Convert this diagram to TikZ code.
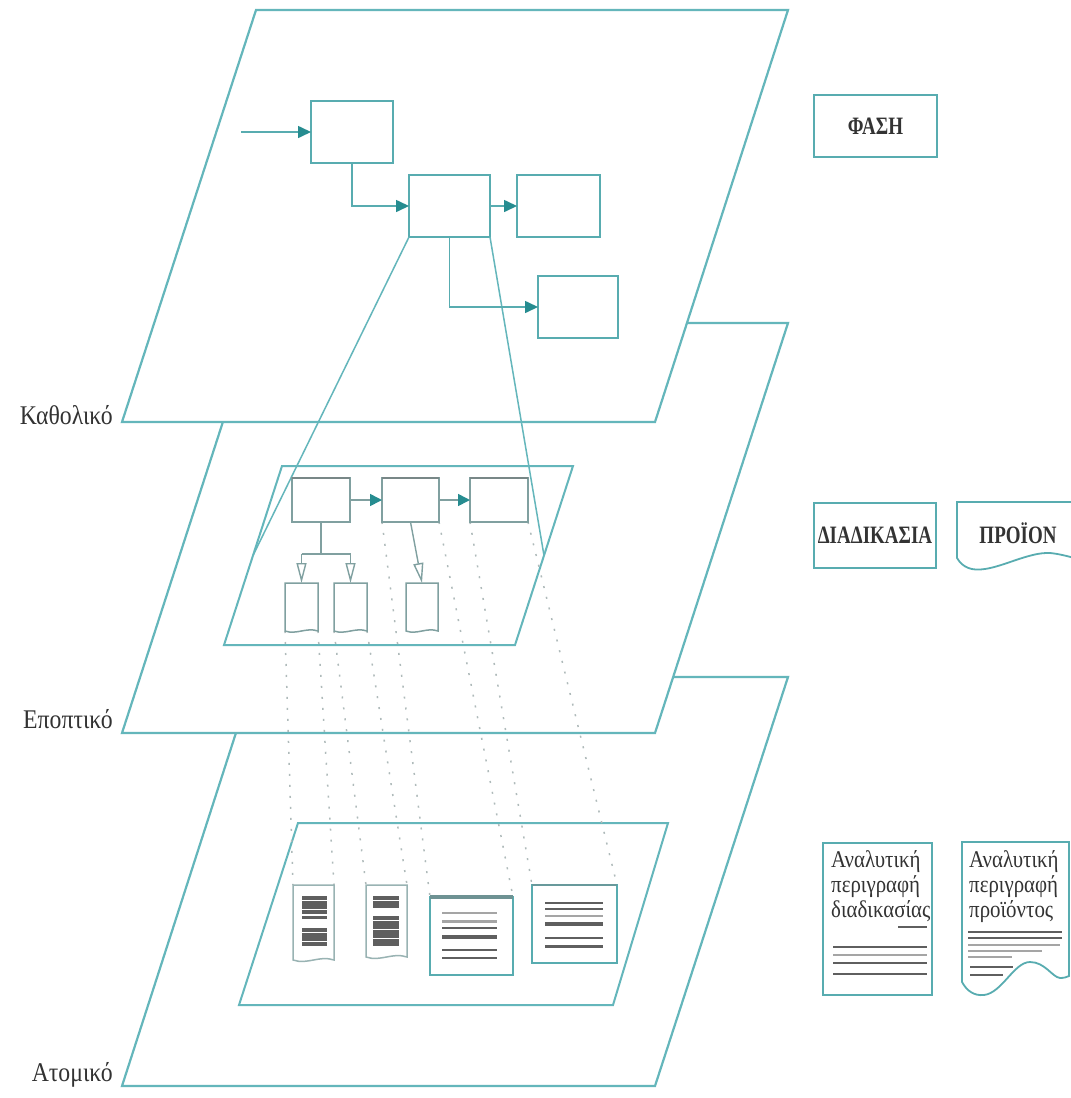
\documentclass[tikz,border=0pt]{standalone}
\usepackage{fontspec}
\setmainfont{Liberation Serif}
\newfontfamily\levelfont[FakeStretch=0.88]{Liberation Serif}
\newfontfamily\keyfont[FakeStretch=0.76]{Liberation Serif}
\newfontfamily\notefont[FakeStretch=0.87]{Liberation Serif}
\usetikzlibrary{arrows.meta,calc}

\definecolor{planeteal}{RGB}{100,182,187}
\definecolor{boxteal}{RGB}{88,172,176}
\definecolor{tipteal}{RGB}{38,140,144}
\definecolor{subgray}{RGB}{128,160,160}
\definecolor{subedge}{RGB}{120,135,135}
\definecolor{dotgray}{RGB}{175,186,186}
\definecolor{bardark}{RGB}{95,95,95}
\definecolor{barlight}{RGB}{165,165,165}
\definecolor{labelgray}{RGB}{50,50,50}

% document symbol: a rectangle node whose bottom edge is a wave
% #1 style, #2 node name, #3 wave depth
\newcommand\wavydoc[3]{%
  \draw[#1] (#2.south east) -- (#2.north east) -- (#2.north west) -- (#2.south west)
    .. controls ($(#2.south west)!0.35!(#2.south east)+(0,#3)$)
            and ($(#2.south west)!0.65!(#2.south east)-(0,#3)$) .. (#2.south east) -- cycle;}

\begin{document}
\begin{tikzpicture}[x=1pt,y=-1pt,
  plane/.style={draw=planeteal,line width=2.2pt,fill=white,line join=miter},
  subplane/.style={draw=planeteal,line width=2pt,line join=miter},
  flowbox/.style 2 args={draw=boxteal,line width=2.2pt,fill=white,inner sep=0pt,
    outer sep=0pt,minimum width=#1,minimum height=#2},
  docnode/.style 2 args={inner sep=0pt,outer sep=0pt,minimum width=#1,minimum height=#2},
  subdoc/.style={draw=subgray,line width=1.5pt,fill=white},
  lowdoc/.style={draw=subgray!80,line width=1.5pt,fill=white},
  keydoc/.style={draw=boxteal,line width=1.8pt,fill=white},
  flow/.style={draw=boxteal,line width=1.6pt,-{Triangle[length=13pt,width=12pt,color=tipteal]}},
  subflow/.style={draw=subgray,line width=1.6pt,-{Triangle[length=12pt,width=12pt,color=tipteal]}},
  subline/.style={draw=subgray,line width=1.6pt},
  openflow/.style={draw=subgray,line width=1.4pt,-{Triangle[open,length=20pt,width=10pt]}},
  proj/.style={draw=planeteal,line width=1.5pt},
  dots/.style={draw=dotgray,line width=1.5pt,dash pattern=on 2pt off 9pt},
  level/.style={font=\levelfont\fontsize{27}{30}\selectfont,text=labelgray,inner sep=0pt},
  keytext/.style={font=\keyfont\bfseries\fontsize{25}{28}\selectfont,text=black!80},
  notetext/.style={font=\notefont\fontsize{24}{25}\selectfont,text=black!80,
    align=left,inner sep=0pt},
  bar/.style={draw=bardark,line width=4pt},
  rule/.style={draw=bardark,line width=2.2pt},
  faint/.style={draw=barlight,line width=2.6pt}]

\useasboundingbox (0,0) rectangle (1071,1098);

% ---------- the three levels, back to front ----------
\draw[plane] (254,677) -- (788,677) -- (655,1086) -- (122,1086) -- cycle;
\draw[subplane] (298,823) -- (668,823) -- (613,1005) -- (239,1005) -- cycle;

\draw[plane] (255,323) -- (788,323) -- (655,733) -- (122,733) -- cycle;
\coordinate (itl) at (282,466);
\coordinate (itr) at (573,466);
\coordinate (ibr) at (515,645);
\coordinate (ibl) at (224,645);
\draw[subplane] (itl) -- (itr) -- (ibr) -- (ibl) -- cycle;
\coordinate (ipl) at ($(itl)!0.5!(ibl)$);
\coordinate (ipr) at ($(itr)!0.5!(ibr)$);

\draw[plane] (256,10) -- (788,10) -- (655,422) -- (122,422) -- cycle;

% level names
\node[level,anchor=base east] (lvl1) at (113,424) {Καθολικό};
\node[level,anchor=base east] (lvl2) at (113,728) {Εποπτικό};
\node[level,anchor=base east] (lvl3) at (113,1081) {Ατομικό};

% ---------- node placement ----------
% top level: phases
\node[flowbox={82}{62}] (A) at (352,132) {};
\node[flowbox={81}{62}] (B) at (449.5,206) {};
\node[flowbox={83}{62}] (C) at (558.5,206) {};
\node[flowbox={80}{62}] (D) at (578,307) {};
\coordinate (in) at (241,132);

% middle level: procedures and products
\node[docnode={58}{44}] (m1) at (321,500) {};
\node[docnode={57}{44}] (m2) at (410.5,500) {};
\node[docnode={58}{44}] (m3) at (499,500) {};
\node[docnode={33}{48}] (d1) at (301.5,607) {};
\node[docnode={33}{48}] (d2) at (350.5,607) {};
\node[docnode={32}{48}] (d3) at (422,607) {};
\coordinate (split) at (321,554);

% lowest level: detailed descriptions
\node[docnode={41}{75}] (bd1) at (313.5,922.5) {};
\node[docnode={41}{72}] (bd2) at (386.5,921) {};
\node[docnode={83}{78}] (bx3) at (471.5,936) {};
\node[docnode={85}{78}] (bx4) at (574.5,924) {};

% ---------- guide lines between levels ----------
\draw[dots] (d1.south west) -- (bd1.north west);
\draw[dots] (d1.south east) -- (bd1.north east);
\draw[dots] (d2.south west) -- (bd2.north west);
\draw[dots] (d2.south east) -- (bd2.north east);
\draw[dots] (m2.south west) -- (bx3.north west);
\draw[dots] (m2.south east) -- (bx3.north east);
\draw[dots] (m3.south west) -- (bx4.north west);
\draw[dots] (m3.south east) -- (bx4.north east);

\draw[proj] (B.south west) -- (ipl);
\draw[proj] (B.south east) -- (ipr);

% ---------- shapes ----------
\foreach \n in {m1,m2,m3}{
  \draw[draw=subgray,line width=1.6pt,fill=white] (\n.north west) rectangle (\n.south east);
  \draw[draw=subedge,line width=2.6pt] (\n.north west) -- (\n.north east);
}
\wavydoc{subdoc}{d1}{4}
\wavydoc{subdoc}{d2}{4}
\wavydoc{subdoc}{d3}{4}

\wavydoc{lowdoc}{bd1}{5}
\wavydoc{lowdoc}{bd2}{5}
\draw[draw=boxteal,line width=1.8pt,fill=white] (bx3.north west) rectangle (bx3.south east);
\draw[draw=subedge!70!boxteal,line width=3.4pt] (bx3.north west) -- (bx3.north east);
\draw[draw=boxteal,line width=1.8pt,fill=white] (bx4.north west) rectangle (bx4.south east);
\draw[draw=subedge!50!boxteal,line width=2.6pt] (bx4.north west) -- (bx4.north east);

% text blocks inside the detailed descriptions
\foreach \y in {898,902.5,907,911.5,930,934.5,939,943.5}{\draw[bar] (302,\y) -- (327,\y);}
\draw[rule] (302,917.5) -- (327,917.5);
\foreach \y in {898,902.5,906,918,922.5,927,931.5,936,940.5,944}{\draw[bar] (373,\y) -- (399,\y);}
\foreach \y in {913,921.5}{\draw[faint] (442,\y) -- (497,\y);}
\draw[rule] (442,928) -- (497,928);
\draw[bar] (442,936.5) -- (497,936.5);
\foreach \y in {950,958}{\draw[rule] (442,\y) -- (497,\y);}
\foreach \y in {903,909,938,946.5}{\draw[rule] (545,\y) -- (603,\y);}
\draw[faint] (545,916) -- (603,916);
\draw[bar] (545,923.5) -- (603,923.5);

% ---------- connectors ----------
\draw[flow] (in) -- (A.west);
\draw[flow] (A.south) |- (B.west);
\draw[flow] (B.east) -- (C.west);
\draw[flow] (B.south) |- (D.west);

\draw[subflow] (m1.east) -- (m2.west);
\draw[subflow] (m2.east) -- (m3.west);
\draw[subline] (m1.south) -- (split);
\draw[subline] (d1.north |- split) -- (d2.north |- split);
\draw[openflow] (d1.north |- split) -- (d1.north);
\draw[openflow] (d2.north |- split) -- (d2.north);
\draw[openflow] (m2.south) -- (d3.north);

% ---------- key ----------
\node[flowbox={123}{62},keytext] (phase) at (875.5,126) {ΦΑΣΗ};
\node[flowbox={122}{65},keytext,line width=1.8pt] (proc) at (875,535.5) {ΔΙΑΔΙΚΑΣΙΑ};
\node[keytext,inner sep=0pt] (prod) at (1018,533) {ΠΡΟΪΟΝ};
\draw[keydoc,fill=none] (1075,502) -- (957,502) -- (957,558)
  .. controls (963,568) and (972,571) .. (985,569)
  .. controls (1005,566) and (1030,552) .. (1050,553)
  .. controls (1060,554) and (1066,556) .. (1075,558);

\node[flowbox={109}{152},line width=1.8pt] (pdesc) at (877.5,919) {};
\node[notetext,anchor=north west] (pdesctext) at (831,850) {Αναλυτική\\περιγραφή\\διαδικασίας};
\draw[rule] (898,927) -- (927,927);
\draw[rule] (833,947) -- (927,947);
\draw[faint] (833,955) -- (927,955);
\draw[rule] (833,963) -- (927,963);
\draw[rule] (833,974) -- (927,974);

\draw[keydoc] (1069,842) -- (962,842) -- (962,982)
  .. controls (967,991) and (974,996) .. (984,995)
  .. controls (1002,993) and (1014,962) .. (1030,962)
  .. controls (1045,962) and (1052,977) .. (1060,978)
  .. controls (1064,978) and (1067,977) .. (1069,976) -- cycle;
\node[notetext,anchor=north west] (ddesctext) at (969,850) {Αναλυτική\\περιγραφή\\προϊόντος};
\draw[rule] (968,932) -- (1062,932);
\draw[rule] (968,938) -- (1062,938);
\draw[faint] (968,945) -- (1060,945);
\draw[faint] (968,951) -- (1042,951);
\draw[faint] (968,957) -- (1012,957);
\draw[rule] (970,967) -- (1013,967);
\draw[rule] (970,975) -- (1003,975);

\end{tikzpicture}
\end{document}
